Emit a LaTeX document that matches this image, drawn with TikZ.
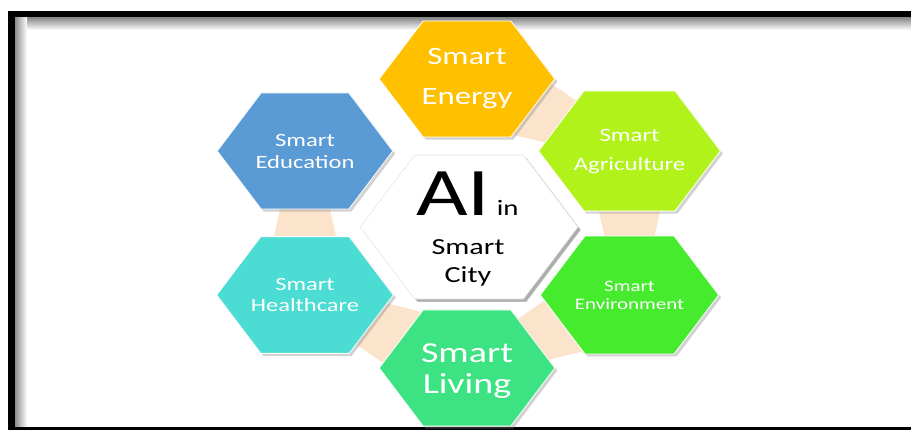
\documentclass[tikz,border=0pt]{standalone}
\usepackage{fontspec}
\setmainfont{Carlito}
\usetikzlibrary{shapes.geometric,shadows,calc,backgrounds}
\definecolor{energyc}{HTML}{FFC000}
\definecolor{agric}{HTML}{B2F21B}
\definecolor{envc}{HTML}{46EB2E}
\definecolor{livingc}{HTML}{3DE383}
\definecolor{healthc}{HTML}{4BDCD3}
\definecolor{educ}{HTML}{5B9BD5}
\definecolor{peach}{HTML}{FCE4CC}
\tikzset{
  hexbox/.style={regular polygon, regular polygon sides=6, minimum size=134pt,
    inner sep=0pt, xscale=1.31, draw=white, line width=0.8pt, text=white, align=center,
    drop shadow={shadow xshift=2.5pt, shadow yshift=-2.5pt, opacity=0.35}},
  citytext/.style={xscale=1.31, text=black, inner sep=0pt, align=center},
  linkband/.style={fill=peach},
}
\begin{document}
\begin{tikzpicture}[x=1pt,y=-1pt]
    \useasboundingbox (0,0) rectangle (911,430);
    \node[hexbox, fill=educ, font=\fontsize{18.8}{22}\selectfont] (edu) at (305,151) {Smart\\Education};
    \node[hexbox, fill=energyc, font=\fontsize{25}{40}\selectfont] (energy) at (467,79) {Smart\\Energy};
    \node[hexbox, fill=agric, font=\fontsize{18.9}{29}\selectfont] (agri) at (629.5,151) {Smart\\Agriculture};
    \node[hexbox, fill=envc, font=\fontsize{16}{18}\selectfont] (env) at (629.5,295) {Smart\\Environment};
    \node[hexbox, fill=livingc, font=\fontsize{29}{31}\selectfont] (living) at (467,368) {\\[-6pt]Smart\\Living};
    \node[hexbox, fill=healthc, font=\fontsize{18.7}{21}\selectfont] (health) at (305,295) {Smart\\Healthcare};
    \node[hexbox, fill=white, draw=black!8, minimum size=166pt,
        drop shadow={shadow xshift=3pt, shadow yshift=-3pt, opacity=0.45}] (city) at (469,227) {};
    \node[citytext, anchor=base] (ai) at (467.5,216)
        {{\fontsize{68}{68}\selectfont AI}\hspace{5pt}{\fontsize{22}{22}\selectfont in}};
    \node[citytext, font=\fontsize{23}{28}\selectfont] (smartcity) at (468,263) {Smart\\City};
    \begin{scope}[on background layer]
        \fill[black] (8,11) rectangle (911,430);
        \fill[white] (15,18) rectangle (911,427);
        \shade[top color=black!45, bottom color=white] (15,18) rectangle (911,30);
        \shade[left color=black!45, right color=white] (15,18) rectangle (27,427);
        \foreach \from/\to in {energy/agri, agri/env, env/living, living/health, health/edu}
            \fill[linkband] ($(\from.center)!44pt!90:(\to.center)$) -- ($(\from.center)!44pt!-90:(\to.center)$)
                -- ($(\to.center)!12pt!90:(\from.center)$) -- ($(\to.center)!12pt!-90:(\from.center)$) -- cycle;
    \end{scope}
\end{tikzpicture}
\end{document}
